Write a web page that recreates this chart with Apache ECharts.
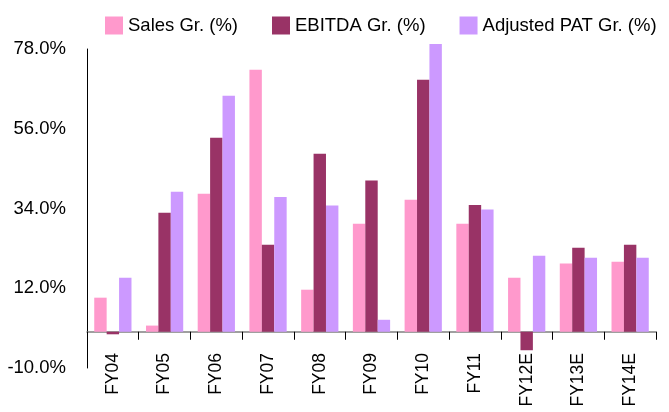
<!DOCTYPE html>
<html>
<head>
<meta charset="utf-8">
<script src="https://cdn.jsdelivr.net/npm/echarts@6/dist/echarts.min.js"></script>
<style>
  html, body { margin: 0; padding: 0; background: #fff; }
  #chart { width: 669px; height: 412px; }
</style>
</head>
<body>
<div id="chart"></div>
<script>
// Growth rates by fiscal year (%), E = estimate
const categories = ['FY04', 'FY05', 'FY06', 'FY07', 'FY08', 'FY09', 'FY10', 'FY11', 'FY12E', 'FY13E', 'FY14E'];
const salesGrowth  = [9.4, 1.7, 38.1, 72.3, 11.6, 29.8, 36.4, 29.8, 14.9, 18.8, 19.3];
const ebitdaGrowth = [-0.7, 32.8, 53.5, 24.0, 49.1, 41.7, 69.5, 35.0, -5.1, 23.2, 24.0];
const patGrowth    = [14.9, 38.6, 65.1, 37.2, 34.8, 3.3, 79.4, 33.7, 21.0, 20.4, 20.4];
const seriesNames  = ['Sales Gr. (%)', 'EBITDA Gr. (%)', 'Adjusted PAT Gr. (%)'];
const seriesColors = ['#FF99CC', '#993366', '#CC99FF'];

const sans = '"Liberation Sans", Arial, sans-serif';

const chart = echarts.init(document.getElementById('chart'), null, { renderer: 'canvas' });

function bar(name, data, color) {
  return {
    name: name,
    type: 'bar',
    data: data,
    clip: false,
    barGap: '0%',
    barCategoryGap: '28%',
    itemStyle: { color: color },
    emphasis: { disabled: true }
  };
}

chart.setOption({
  animation: false,
  backgroundColor: '#fff',
  legend: {
    top: 11,
    left: 100,
    width: 569,
    itemWidth: 18,
    itemHeight: 18,
    itemGap: 34,
    icon: 'rect',
    textStyle: { fontFamily: sans, fontSize: 18.5, color: '#000' },
    data: seriesNames
  },
  grid: { left: 87, right: 13, top: 49, bottom: 44, containLabel: false, outerBoundsMode: 'none' },
  xAxis: {
    type: 'category',
    data: categories,
    axisLine: { onZero: true, lineStyle: { color: '#808080', width: 1.5 } },
    axisTick: { show: true, inside: false, length: 8, lineStyle: { color: '#000' } },
    axisLabel: {
      rotate: 90,
      margin: -15,
      fontFamily: sans,
      fontSize: 17.5,
      color: '#000'
    },
    splitLine: { show: false }
  },
  yAxis: {
    type: 'value',
    min: -10,
    max: 78,
    interval: 22,
    axisLine: { show: true, lineStyle: { color: '#000', width: 1 } },
    axisTick: { show: false },
    splitLine: { show: false },
    axisLabel: {
      margin: 21,
      fontFamily: sans,
      fontSize: 18.5,
      color: '#000',
      formatter: function (v) { return v.toFixed(1) + '%'; }
    }
  },
  series: [
    bar(seriesNames[0], salesGrowth, seriesColors[0]),
    bar(seriesNames[1], ebitdaGrowth, seriesColors[1]),
    bar(seriesNames[2], patGrowth, seriesColors[2])
  ]
});
</script>
</body>
</html>
